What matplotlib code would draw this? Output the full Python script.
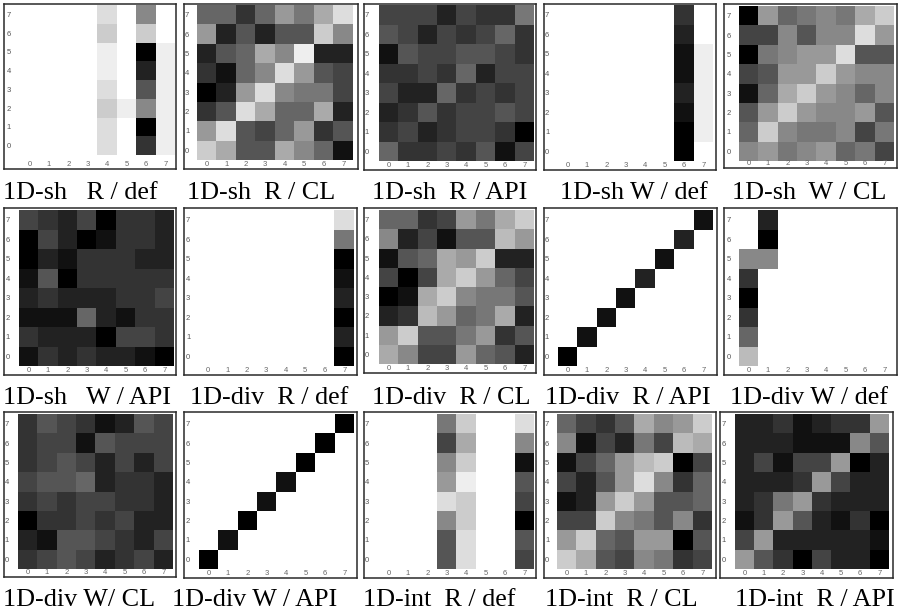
import numpy as np
import matplotlib
matplotlib.use("Agg")
import matplotlib.pyplot as plt

# Grey levels 0 (black) .. 15 (white), rows listed from y=7 (top) to y=0 (bottom)
sh_r_def = [[15,15,15,15,13,15,8,15],[15,15,15,15,12,15,12,15],[15,15,15,15,14,15,0,14],[15,15,15,15,14,15,2,14],
            [15,15,15,15,13,15,5,14],[15,15,15,15,12,14,8,14],[15,15,15,15,13,15,0,14],[15,15,15,15,13,15,3,14]]
sh_r_cl = [[6,6,3,6,9,7,10,13],[9,2,5,2,5,5,12,8],[2,5,6,10,8,14,2,2],[3,1,6,8,13,9,5,4],
           [0,2,9,13,8,7,7,4],[3,5,13,10,6,6,10,2],[9,13,5,4,6,9,3,5],[12,10,5,5,10,8,6,1]]
sh_r_api = [[4,4,4,2,4,3,3,7],[5,4,2,4,3,4,6,3],[1,5,4,4,5,5,4,3],[3,3,4,3,6,2,4,4],
            [4,2,2,6,3,4,3,4],[2,3,5,3,4,4,5,4],[3,4,2,3,4,4,3,0],[6,3,3,4,3,5,1,4]]
sh_w_def = [[15,15,15,15,15,15,3,15],[15,15,15,15,15,15,2,15],[15,15,15,15,15,15,1,14],[15,15,15,15,15,15,1,14],
            [15,15,15,15,15,15,2,14],[15,15,15,15,15,15,1,14],[15,15,15,15,15,15,0,14],[15,15,15,15,15,15,0,15]]
sh_w_cl = [[0,9,6,7,8,7,10,12],[4,4,8,5,8,8,13,9],[0,7,8,9,9,13,5,5],[4,5,9,9,12,9,8,8],
           [1,6,10,12,9,8,6,8],[5,9,12,9,8,8,9,5],[6,12,8,7,7,8,4,7],[8,9,7,8,9,6,7,4]]
sh_w_api = [[4,3,2,4,0,3,3,2],[0,4,2,0,1,3,3,2],[0,2,1,3,3,3,2,2],[1,5,0,3,3,3,3,3],
            [2,3,2,2,2,3,3,4],[1,1,1,6,2,1,3,3],[3,2,2,2,0,4,4,3],[1,3,2,3,2,2,1,0]]
div_r_def = [[15,15,15,15,15,15,15,13],[15,15,15,15,15,15,15,7],[15,15,15,15,15,15,15,0],[15,15,15,15,15,15,15,1],
             [15,15,15,15,15,15,15,2],[15,15,15,15,15,15,15,0],[15,15,15,15,15,15,15,2],[15,15,15,15,15,15,15,0]]
div_r_cl = [[6,6,3,4,9,7,10,12],[8,2,4,1,5,5,11,9],[1,5,6,10,9,12,2,2],[4,0,4,10,12,9,6,4],
            [0,1,10,12,8,7,7,5],[2,3,11,9,6,7,10,2],[9,12,5,5,7,9,3,5],[10,8,4,4,9,6,5,2]]
div_r_api = [[15,15,15,15,15,15,15,1],[15,15,15,15,15,15,2,15],[15,15,15,15,15,1,15,15],[15,15,15,15,2,15,15,15],
             [15,15,15,1,15,15,15,15],[15,15,1,15,15,15,15,15],[15,1,15,15,15,15,15,15],[0,15,15,15,15,15,15,15]]
div_w_def = [[15,2,15,15,15,15,15,15],[15,0,15,15,15,15,15,15],[8,8,15,15,15,15,15,15],[3,15,15,15,15,15,15,15],
             [0,15,15,15,15,15,15,15],[3,15,15,15,15,15,15,15],[6,15,15,15,15,15,15,15],[11,15,15,15,15,15,15,15]]
div_w_cl = [[3,5,4,3,1,2,5,4],[3,4,4,1,5,4,4,4],[3,4,5,4,2,4,2,4],[4,5,5,6,2,3,3,2],
            [3,4,3,4,4,3,3,2],[0,3,3,4,3,4,2,2],[2,1,5,5,4,3,2,4],[3,4,5,4,2,3,4,2]]
div_w_api = [[15,15,15,15,15,15,15,0],[15,15,15,15,15,15,0,15],[15,15,15,15,15,0,15,15],[15,15,15,15,1,15,15,15],
             [15,15,15,1,15,15,15,15],[15,15,0,15,15,15,15,15],[15,1,15,15,15,15,15,15],[0,15,15,15,15,15,15,15]]
int_r_def = [[15,15,15,7,12,15,15,13],[15,15,15,4,10,15,15,8],[15,15,15,8,12,15,15,1],[15,15,15,9,14,15,15,5],
             [15,15,15,13,12,15,15,4],[15,15,15,8,12,15,15,0],[15,15,15,5,13,15,15,5],[15,15,15,5,13,15,15,4]]
int_r_cl = [[6,4,3,5,10,8,9,12],[8,1,4,2,7,4,11,10],[1,4,6,9,11,12,0,4],[4,2,5,9,13,8,3,6],
            [1,2,9,12,9,5,5,6],[4,4,12,8,7,5,8,3],[9,12,6,5,9,9,0,5],[12,10,5,4,8,7,3,4]]
int_r_api = [[2,2,3,1,2,3,3,9],[2,2,2,1,1,1,8,5],[2,4,1,4,4,9,0,2],[2,2,2,3,9,4,2,2],
             [2,3,7,9,3,2,2,2],[1,3,9,5,2,1,3,0],[4,9,2,2,2,2,2,1],[9,5,3,0,4,2,2,0]]
tick_labels = ["0", "1", "2", "3", "4", "5", "6", "7"]
captions = ["1D-sh   R / def", "1D-sh  R / CL", "1D-sh  R / API", "1D-sh W / def", "1D-sh  W / CL",
            "1D-sh   W / API", "1D-div  R / def", "1D-div  R / CL", "1D-div  R / API", "1D-div W / def",
            "1D-div W/ CL", "1D-div W / API", "1D-int  R / def", "1D-int  R / CL", "1D-int  R / API"]
matrices = [sh_r_def, sh_r_cl, sh_r_api, sh_w_def, sh_w_cl, sh_w_api, div_r_def, div_r_cl, div_r_api,
            div_w_def, div_w_cl, div_w_api, int_r_def, int_r_cl, int_r_api]

# Layout in pixels: frame (x0, y0, x1, y1), cells (x0, y0, x1, y1), y-label offset, caption (x, baseline)
W, H = 902, 614
frames = [(4,4,176,169),(184,4,358,169),(364,4,536,170),(544,4,716,170),(724,4,897,168),
          (4,208,176,375),(184,208,357,375),(364,208,536,373),(544,208,717,375),(724,208,897,375),
          (4,412,176,577),(184,412,357,578),(364,412,536,578),(544,412,716,578),(720,412,893,578)]
cells = [(20,5,175,155),(197,5,353,160),(379,5,534,161),(558,5,713,161),(739,6,894,161),
         (19,210,174,366),(198,210,354,366),(379,210,534,364),(558,210,713,366),(739,210,894,366),
         (18,414,173,569),(199,414,354,569),(379,414,534,569),(557,414,712,569),(735,414,889,569)]
ylab = [5,3.3,2.7,3.3,4.7,4,4.3,2.7,2.7,4.7,2.7,3.7,2.7,3.3,4]
cap_pos = [(3,199),(187,199),(372,199),(560,199),(732,199),
           (3,404),(190,404),(372,404),(545,404),(730,404),
           (3,606),(172,606),(363,606),(545,606),(735,606)]
px = 72 / 100

fig = plt.figure(figsize=(W / 100, H / 100), dpi=100, facecolor="white")
for m, f, c, yl in zip(matrices, frames, cells, ylab):
    ax = fig.add_axes([f[0] / W, 1 - f[3] / H, (f[2] - f[0]) / W, (f[3] - f[1]) / H])
    cw = (c[2] - c[0]) / 8
    ch = (c[3] - c[1]) / 8
    ax.imshow(np.array(m)[::-1], cmap="gray", vmin=0, vmax=15, origin="lower",
              aspect="auto", interpolation="nearest")
    ax.set_xlim(-0.5 - (c[0] - f[0]) / cw, 7.5 + (f[2] - c[2]) / cw)
    ax.set_ylim(-0.5 - (f[3] - c[3]) / ch, 7.5 + (c[1] - f[1]) / ch)
    ax.set_xticks(range(8), tick_labels, fontsize=5.5, color="#666666", family="Liberation Sans")
    ax.set_yticks(range(8), tick_labels, fontsize=5.5, color="#555555", family="Liberation Sans")
    ax.tick_params(axis="x", length=0, pad=-8 * px)
    ax.tick_params(axis="y", length=0, pad=-(yl + 2) * px)
    for s in ax.spines.values():
        s.set_linewidth(1.1)
        s.set_color("#2a2a2a")
for cap, (x, y) in zip(captions, cap_pos):
    fig.text(x / W, 1 - y / H, cap, family="Liberation Serif", fontsize=18.8, color="black",
             ha="left", va="baseline")
fig.savefig("out.png", dpi=100)
